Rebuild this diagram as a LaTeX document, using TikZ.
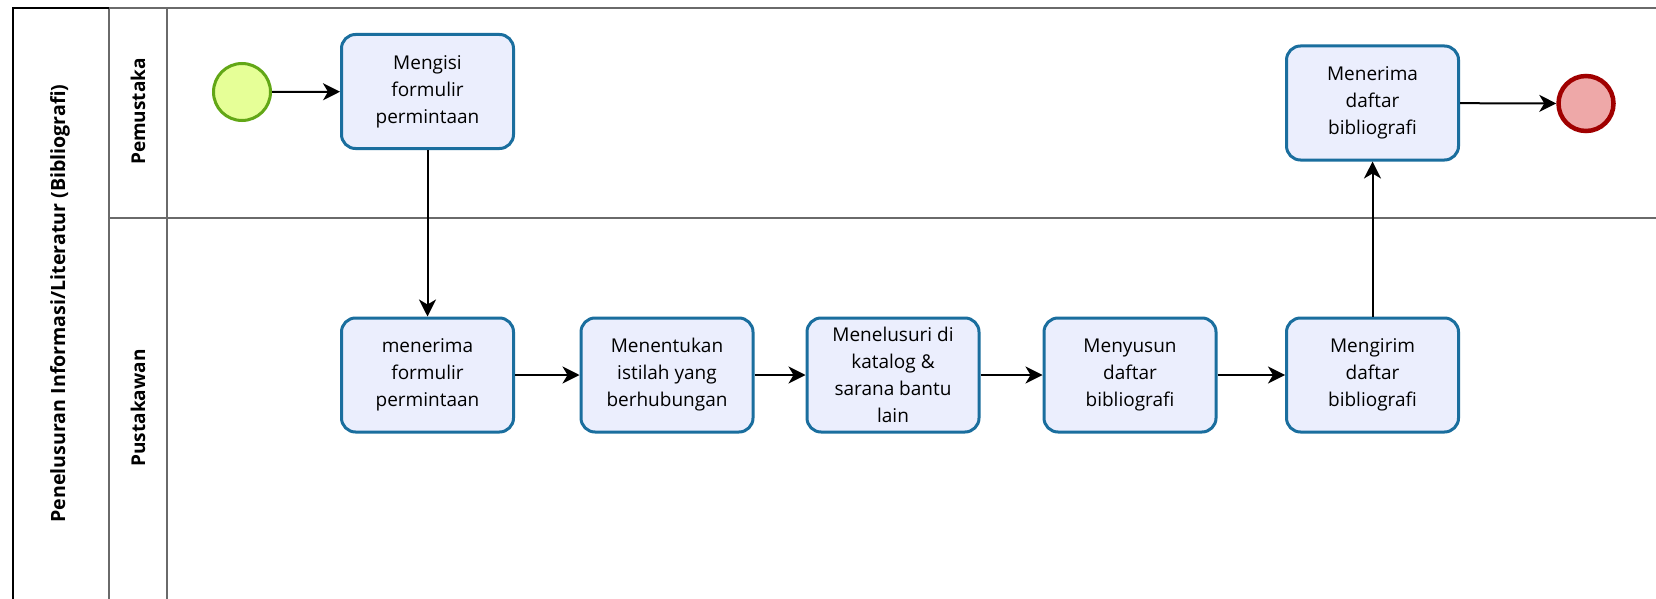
\documentclass[tikz,border=0pt]{standalone}
\usepackage{fontspec}
\setmainfont{Open Sans}
\usetikzlibrary{positioning,arrows.meta}
\definecolor{taskfill}{HTML}{EBEEFD}
\definecolor{taskline}{HTML}{1A6E9E}
\definecolor{startfill}{HTML}{E6FF97}
\definecolor{startline}{HTML}{62A716}
\definecolor{endfill}{HTML}{EEA8A8}
\definecolor{endline}{HTML}{A00000}
\definecolor{laneline}{HTML}{6A6A6A}

\begin{document}
\begin{tikzpicture}[x=1pt, y=-1pt,
    task/.style={rectangle, rounded corners=14pt, draw=taskline, fill=taskfill, line width=3pt, minimum width=172pt, minimum height=114pt, align=center, inner sep=0pt, font=\fontsize{19}{27}\selectfont},
    startev/.style={circle, draw=startline, fill=startfill, line width=3pt, minimum size=57pt, inner sep=0pt},
    endev/.style={circle, draw=endline, fill=endfill, line width=4.5pt, minimum size=55pt, inner sep=0pt},
    lanelabel/.style={rotate=90, font=\fontsize{19}{22}\selectfont\bfseries},
    lane/.style={draw=laneline, line width=2pt},
    arrow/.style={-{Stealth[length=17pt, width=17pt, inset=5pt]}, line width=2pt}
]
    \useasboundingbox (0,0) rectangle (1656,599);
    \fill[white] (0,0) rectangle (1656,599);

    \draw[lane] (109,8.5) -- (109,640);
    \draw[lane] (167,8.5) -- (167,640);
    \draw[lane] (109,217.5) -- (1680,217.5);
    \draw[line width=2pt] (12.5,640) -- (12.5,8.5) -- (109,8.5);
    \draw[lane] (109,8.5) -- (1680,8.5);

    \node[lanelabel, font=\fontsize{19.6}{24}\selectfont\bfseries] (pool) at (60, 303.5) {Penelusuran Informasi/Literatur (Bibliografi)};
    \node[lanelabel] (pemustaka) at (138, 111.5) {Pemustaka};
    \node[lanelabel] (pustakawan) at (138, 408) {Pustakawan};

    \node[startev] (start) at (242, 92) {};
    \node[task] (isi) at (427.5, 91.5) {Mengisi\\formulir\\permintaan};
    \node[task] (terima) at (427.5, 375) {menerima\\formulir\\permintaan};
    \node[task] (istilah) at (667, 375) {Menentukan\\istilah yang\\berhubungan};
    \node[task] (telusur) at (893, 375) {Menelusuri di\\katalog \&\\sarana bantu\\lain};
    \node[task] (susun) at (1130, 375) {Menyusun\\daftar\\bibliografi};
    \node[task] (kirim) at (1372.5, 375) {Mengirim\\daftar\\bibliografi};
    \node[task] (dapat) at (1372.5, 103) {Menerima\\daftar\\bibliografi};
    \node[endev] (end) at (1586, 103.5) {};

    \draw[arrow] (start) -- (isi);
    \draw[arrow] (isi) -- (terima);
    \draw[arrow] (terima) -- (istilah);
    \draw[arrow] (istilah) -- (telusur);
    \draw[arrow] (telusur) -- (susun);
    \draw[arrow] (susun) -- (kirim);
    \draw[arrow] (kirim) -- (dapat);
    \draw[arrow] (dapat) -- (end);
\end{tikzpicture}
\end{document}
